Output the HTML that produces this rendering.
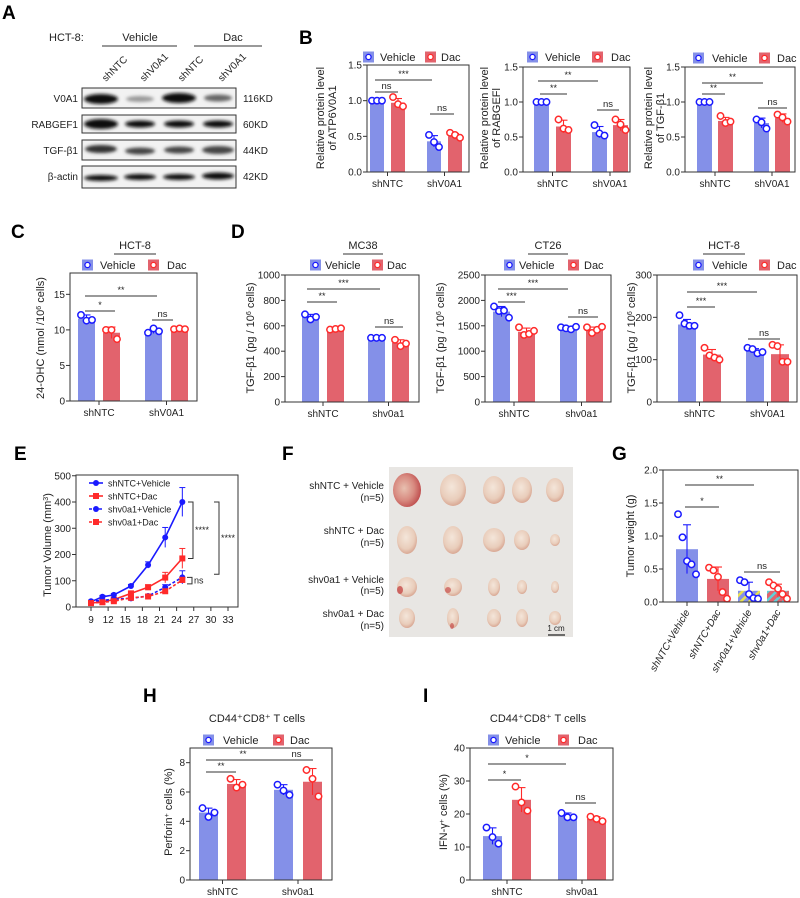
<!DOCTYPE html>
<html><head><meta charset="utf-8">
<style>
html,body{margin:0;padding:0;background:#fff;}
svg{display:block;font-family:"Liberation Sans",Arial,sans-serif;}
</style></head>
<body>
<svg id="fig" width="800" height="898" viewBox="0 0 800 898" xmlns="http://www.w3.org/2000/svg">
<defs>
<filter id="blur1"><feGaussianBlur stdDeviation="1.6"/></filter>
<pattern id="hatchB" width="6" height="6" patternUnits="userSpaceOnUse" patternTransform="rotate(45)"><rect width="6" height="6" fill="#8490e8"/><rect width="2.5" height="6" fill="#e8e050"/></pattern>
<pattern id="hatchR" width="6" height="6" patternUnits="userSpaceOnUse" patternTransform="rotate(45)"><rect width="6" height="6" fill="#e2636d"/><rect width="2.5" height="6" fill="#60d0d8"/></pattern>
<radialGradient id="tum" cx="45%" cy="40%" r="60%"><stop offset="0" stop-color="#f4e6da"/><stop offset="0.7" stop-color="#e9cdbb"/><stop offset="1" stop-color="#d9a894"/></radialGradient>
<radialGradient id="tumR" cx="40%" cy="45%" r="60%"><stop offset="0" stop-color="#e8c0b0"/><stop offset="0.6" stop-color="#d88a80"/><stop offset="1" stop-color="#c05050"/></radialGradient>
</defs>

<g font-weight="bold" font-size="19" fill="#000">
<text x="2" y="19">A</text>
<text x="299" y="44">B</text>
<text x="11" y="238">C</text>
<text x="231" y="238">D</text>
<text x="14" y="460">E</text>
<text x="282" y="460">F</text>
<text x="612" y="460">G</text>
<text x="143" y="702">H</text>
<text x="423" y="702">I</text>
</g>

<g id="panelA" font-size="11" fill="#222">
<text x="49" y="41">HCT-8:</text>
<text x="140" y="41" text-anchor="middle">Vehicle</text>
<line x1="102" y1="46" x2="177" y2="46" stroke="#333" stroke-width="1"/>
<text x="233" y="41" text-anchor="middle">Dac</text>
<line x1="194" y1="46" x2="262" y2="46" stroke="#333" stroke-width="1"/>
<text transform="translate(106,82) rotate(-45)" font-size="10">shNTC</text>
<text transform="translate(144,82) rotate(-45)" font-size="10">shV0A1</text>
<text transform="translate(182,82) rotate(-45)" font-size="10">shNTC</text>
<text transform="translate(222,82) rotate(-45)" font-size="10">shV0A1</text>
<g font-size="10" text-anchor="end">
<text x="78" y="102">V0A1</text>
<text x="78" y="128">RABGEF1</text>
<text x="78" y="154">TGF-β1</text>
<text x="78" y="180">β-actin</text>
</g>
<g font-size="10">
<text x="243" y="102">116KD</text>
<text x="243" y="128">60KD</text>
<text x="243" y="154">44KD</text>
<text x="243" y="180">42KD</text>
</g>
<g stroke="#333" stroke-width="1" fill="#f2f2f2">
<rect x="82" y="88" width="154" height="20"/>
<rect x="82" y="115" width="154" height="18"/>
<rect x="82" y="140" width="154" height="20"/>
<rect x="82" y="166" width="154" height="22"/>
</g>
<g filter="url(#blur1)" fill="#111">
<ellipse cx="101" cy="99" rx="17" ry="5"/>
<ellipse cx="140" cy="99" rx="14" ry="3" fill="#999"/>
<ellipse cx="179" cy="98" rx="17" ry="5"/>
<ellipse cx="218" cy="98" rx="14" ry="3.5" fill="#666"/>
<ellipse cx="101" cy="124" rx="17" ry="5"/>
<ellipse cx="140" cy="124" rx="15" ry="3.5"/>
<ellipse cx="179" cy="124" rx="15" ry="3.5"/>
<ellipse cx="218" cy="124" rx="15" ry="3.5"/>
<ellipse cx="101" cy="149" rx="16" ry="4" fill="#333"/>
<ellipse cx="140" cy="151" rx="15" ry="3.5" fill="#444"/>
<ellipse cx="179" cy="150" rx="15" ry="3.5" fill="#444"/>
<ellipse cx="218" cy="150" rx="16" ry="4" fill="#444"/>
<ellipse cx="101" cy="178" rx="17" ry="3"/>
<ellipse cx="140" cy="177" rx="16" ry="3"/>
<ellipse cx="179" cy="177" rx="16" ry="3"/>
<ellipse cx="218" cy="176" rx="16" ry="3.5"/>
</g>
</g>

<g id="panelF">
<rect x="389" y="467" width="184" height="170" fill="#e8e6e3"/>
<g font-size="10" fill="#222" text-anchor="end">
<text x="384" y="489">shNTC + Vehicle</text>
<text x="384" y="501">(n=5)</text>
<text x="384" y="534">shNTC + Dac</text>
<text x="384" y="546">(n=5)</text>
<text x="384" y="583">shv0a1 + Vehicle</text>
<text x="384" y="594">(n=5)</text>
<text x="384" y="617">shv0a1 + Dac</text>
<text x="384" y="629">(n=5)</text>
</g>
<g id="tumors"></g>
<text x="556" y="631" font-size="8" text-anchor="middle" fill="#222">1 cm</text>
<line x1="548" y1="635" x2="565" y2="635" stroke="#222" stroke-width="1.2"/>
</g>

<g id="charts"></g>
</svg>

<script>
const groupsB = ["shNTC", "shV0A1"];
const groupsShv = ["shNTC", "shv0a1"];
const seriesNames = ["Vehicle", "Dac"];

const b1Means = [1.0, 0.97, 0.43, 0.5];
const b1Errs = [0.0, 0.06, 0.08, 0.04];
const b1Points = [[1.0, 1.0, 1.0], [1.05, 0.95, 0.92], [0.52, 0.42, 0.35], [0.55, 0.52, 0.48]];
const b2Means = [1.0, 0.65, 0.57, 0.67];
const b2Errs = [0.0, 0.09, 0.08, 0.08];
const b2Points = [[1.0, 1.0, 1.0], [0.75, 0.62, 0.6], [0.67, 0.55, 0.52], [0.75, 0.68, 0.6]];
const b3Means = [1.0, 0.73, 0.7, 0.77];
const b3Errs = [0.0, 0.05, 0.07, 0.06];
const b3Points = [[1.0, 1.0, 1.0], [0.8, 0.7, 0.72], [0.75, 0.71, 0.62], [0.82, 0.78, 0.72]];
const bTicks = [0, 0.5, 1.0, 1.5];
const bTickLabels = ["0.0", "0.5", "1.0", "1.5"];

const cMeans = [11.6, 9.6, 9.8, 10.1];
const cErrs = [0.5, 0.8, 0.3, 0.1];
const cPoints = [[12.1, 11.3, 11.4], [10.0, 10.0, 8.7], [9.6, 10.2, 9.8], [10.1, 10.2, 10.1]];
const cTicks = [0, 5, 10, 15];

const d1Means = [670, 575, 505, 465];
const d1Errs = [20, 5, 3, 25];
const d1Points = [[690, 650, 670], [570, 575, 580], [505, 505, 505], [490, 440, 460]];
const d1Ticks = [0, 200, 400, 600, 800, 1000];
const d2Means = [1780, 1380, 1450, 1420];
const d2Errs = [100, 75, 25, 55];
const d2Points = [[1880, 1790, 1800, 1660], [1470, 1320, 1340, 1400], [1470, 1450, 1430, 1480], [1470, 1360, 1420, 1480]];
const d2Ticks = [0, 500, 1000, 1500, 2000, 2500];
const d3Means = [183, 112, 120, 113];
const d3Errs = [12, 12, 6, 22];
const d3Points = [[205, 185, 180, 180], [128, 110, 105, 100], [128, 125, 115, 118], [135, 132, 95, 95]];
const d3Ticks = [0, 100, 200, 300];

const eDays = [9, 11, 13, 16, 19, 22, 25];
const eShNTCVeh = [20, 39, 46, 80, 160, 265, 400];
const eShNTCVehErr = [4, 5, 5, 6, 12, 38, 55];
const eShNTCDac = [15, 20, 28, 52, 75, 112, 185];
const eShNTCDacErr = [3, 4, 5, 8, 10, 20, 38];
const eShvVeh = [22, 25, 30, 33, 42, 75, 113];
const eShvVehErr = [3, 4, 4, 5, 6, 10, 25];
const eShvDac = [15, 18, 22, 35, 40, 60, 103];
const eShvDacErr = [3, 3, 4, 4, 5, 8, 10];
const eXTicks = [9, 12, 15, 18, 21, 24, 27, 30, 33];
const eYTicks = [0, 100, 200, 300, 400, 500];
const eSeriesNames = ["shNTC+Vehicle", "shNTC+Dac", "shv0a1+Vehicle", "shv0a1+Dac"];

const gCategories = ["shNTC+Vehicle", "shNTC+Dac", "shv0a1+Vehicle", "shv0a1+Dac"];
const gMeans = [0.8, 0.35, 0.17, 0.17];
const gErrs = [0.37, 0.18, 0.13, 0.1];
const gPoints = [[1.33, 0.98, 0.62, 0.57, 0.42], [0.52, 0.48, 0.38, 0.15, 0.05], [0.33, 0.3, 0.12, 0.06, 0.05], [0.3, 0.25, 0.2, 0.12, 0.05]];
const gTicks = [0, 0.5, 1.0, 1.5, 2.0];
const gTickLabels = ["0.0", "0.5", "1.0", "1.5", "2.0"];

const hMeans = [4.6, 6.55, 6.15, 6.7];
const hErrs = [0.3, 0.3, 0.35, 0.9];
const hPoints = [[4.9, 4.3, 4.6], [6.9, 6.3, 6.5], [6.5, 6.1, 5.8], [7.5, 6.9, 5.7]];
const hTicks = [0, 2, 4, 6, 8];
const iMeans = [13.3, 24.3, 19.5, 18.5];
const iErrs = [2.5, 3.7, 0.8, 0.7];
const iPoints = [[15.9, 13.0, 11.0], [28.3, 23.5, 21.0], [20.3, 19.0, 19.0], [19.2, 18.5, 17.8]];
const iTicks = [0, 10, 20, 30, 40];

const NS = "http://www.w3.org/2000/svg";
const root = document.getElementById("charts");
const BLUE_BAR = "#8490e8", RED_BAR = "#e2636d", BLUE = "#1a1aff", RED = "#ff2a2a";
function mk(parent, tag, attrs, name) {
  const el = document.createElementNS(NS, tag);
  for (const k in attrs) el.setAttribute(k, attrs[k]);
  
  
  parent.appendChild(el);
  return el;
}
function txt(parent, x, y, s, size, name, extra) {
  const t = mk(parent, "text", Object.assign({x: x, y: y, "font-size": size, fill: "#222"}, extra || {}), name);
  t.textContent = s;
  return t;
}
function legend(g, sqB, txB, sqR, txR, y) {
  mk(g, "rect", {x: sqB, y: y - 5.5, width: 11, height: 11, fill: BLUE_BAR}, "legend-vehicle-swatch");
  mk(g, "circle", {cx: sqB + 5.5, cy: y, r: 2.6, fill: "#fff", stroke: BLUE, "stroke-width": 1.3}, "legend-vehicle-marker");
  txt(g, txB, y + 4, seriesNames[0], 11, "legend-vehicle-label");
  mk(g, "rect", {x: sqR, y: y - 5.5, width: 11, height: 11, fill: RED_BAR}, "legend-dac-swatch");
  mk(g, "circle", {cx: sqR + 5.5, cy: y, r: 2.6, fill: "#fff", stroke: RED, "stroke-width": 1.3}, "legend-dac-marker");
  txt(g, txR, y + 4, seriesNames[1], 11, "legend-dac-label");
}
function sig(g, x1, x2, y, label) {
  mk(g, "line", {x1: x1, x2: x2, y1: y, y2: y, stroke: "#333", "stroke-width": 1}, "significance-line");
  txt(g, (x1 + x2) / 2, y - 3, label, label === "ns" ? 9.5 : 9, "significance-label", {"text-anchor": "middle"});
}
function barPanel(cfg, means, errs, pts, ticks, tickLabels, cats) {
  const g = mk(root, "g", {}, cfg.name);
  const yS = v => cfg.y0 - v / cfg.ymax * (cfg.y0 - cfg.top);
  means.forEach((m, i) => {
    const fill = cfg.fills ? cfg.fills[i] : (i % 2 === 0 ? BLUE_BAR : RED_BAR);
    mk(g, "rect", {x: cfg.bx[i], y: yS(m), width: cfg.bw, height: cfg.y0 - yS(m), fill: fill}, "bar-" + (i % 2 === 0 ? "vehicle" : "dac") + "-" + i);
  });
  means.forEach((m, i) => {
    const c = i % 2 === 0 ? BLUE : RED;
    const cx = cfg.bx[i] + cfg.bw / 2;
    if (errs[i] > 0) {
      mk(g, "line", {x1: cx, x2: cx, y1: yS(m - errs[i]), y2: yS(m + errs[i]), stroke: c, "stroke-width": 1.1}, "error-bar");
      mk(g, "line", {x1: cx - 4, x2: cx + 4, y1: yS(m + errs[i]), y2: yS(m + errs[i]), stroke: c, "stroke-width": 1.1}, "error-cap");
    }
  });
  pts.forEach((arr, i) => {
    const c = i % 2 === 0 ? BLUE : RED;
    const cx = cfg.bx[i] + cfg.bw / 2;
    const sp = cfg.spread || 5.5;
    arr.forEach((v, j) => {
      const px = cx + (j - (arr.length - 1) / 2) * sp;
      mk(g, "circle", {cx: px, cy: yS(v), r: 3.2, fill: "#fff", stroke: c, "stroke-width": 1.5}, "data-point");
    });
  });
  mk(g, "rect", {x: cfg.x0, y: cfg.top, width: cfg.x1 - cfg.x0, height: cfg.y0 - cfg.top, fill: "none", stroke: "#333", "stroke-width": 1}, "plot-frame");
  ticks.forEach((t, k) => {
    mk(g, "line", {x1: cfg.x0 - 4, x2: cfg.x0, y1: yS(t), y2: yS(t), stroke: "#333"}, "y-tick");
    txt(g, cfg.x0 - 5, yS(t) + 3.5, tickLabels ? tickLabels[k] : String(t), 10, "y-tick-label", {"text-anchor": "end"});
  });
  if (cats && !cfg.rotCats) {
    cats.forEach((c, k) => {
      const cx = (cfg.bx[2 * k] + cfg.bx[2 * k + 1] + cfg.bw) / 2;
      mk(g, "line", {x1: cx, x2: cx, y1: cfg.y0, y2: cfg.y0 + 4, stroke: "#333"}, "x-tick");
      txt(g, cx, cfg.y0 + 15, c, 10, "x-tick-label", {"text-anchor": "middle"});
    });
  }
  const yt = mk(g, "text", {transform: "translate(" + cfg.ytx + "," + cfg.yty + ") rotate(-90)", "font-size": 11, fill: "#222", "text-anchor": "middle"}, "y-axis-title");
  cfg.ytitle.forEach((line, k) => {
    const ts = mk(yt, "tspan", {x: 0, dy: k === 0 ? 0 : 12}, "y-axis-title-line");
    ts.innerHTML = line;
  });
  (cfg.sigs || []).forEach(s => sig(g, s[0], s[1], s[2], s[3]));
  if (cfg.legend) legend(g, cfg.legend[0], cfg.legend[1], cfg.legend[2], cfg.legend[3], cfg.legend[4]);
  if (cfg.title) {
    txt(g, cfg.title[0], cfg.title[1], cfg.title[2], 11, "chart-title", {"text-anchor": "middle"});
    if (cfg.title[3]) mk(g, "line", {x1: cfg.title[0] - cfg.title[3], x2: cfg.title[0] + cfg.title[3], y1: cfg.title[1] + 5, y2: cfg.title[1] + 5, stroke: "#333"}, "chart-title-underline");
  }
  return g;
}

barPanel({name: "chart-b-atp6v0a1", x0: 367, x1: 469, top: 65, y0: 172, ymax: 1.5, bx: [370, 391, 427, 448], bw: 14, spread: 5,
  ytx: 324, yty: 118, ytitle: ["Relative protein level", "of ATP6V0A1"], legend: [363, 380, 425, 441, 57],
  sigs: [[375, 432, 80, "***"], [375, 398, 92, "ns"], [430, 454, 114, "ns"]]}, b1Means, b1Errs, b1Points, bTicks, bTickLabels, groupsB);
barPanel({name: "chart-b-rabgef1", x0: 523, x1: 630, top: 67, y0: 172, ymax: 1.5, bx: [534, 556, 592, 613], bw: 15, spread: 5,
  ytx: 488, yty: 118, ytitle: ["Relative protein level", "of RABGEFl"], legend: [527, 545, 592, 611, 57],
  sigs: [[538, 598, 81, "**"], [540, 567, 94, "**"], [597, 619, 110, "ns"]]}, b2Means, b2Errs, b2Points, bTicks, bTickLabels, groupsB);
barPanel({name: "chart-b-tgfb1", x0: 685, x1: 795, top: 67, y0: 172, ymax: 1.5, bx: [697, 718, 754, 775], bw: 15, spread: 5,
  ytx: 652, yty: 118, ytitle: ["Relative protein level", "of TGF-β1"], legend: [693, 712, 759, 777, 58],
  sigs: [[702, 763, 83, "**"], [702, 725, 94, "**"], [758, 787, 108, "ns"]]}, b3Means, b3Errs, b3Points, bTicks, bTickLabels, groupsB);

barPanel({name: "chart-c-24ohc", x0: 70, x1: 197, top: 273, y0: 401, ymax: 18, bx: [78, 103, 145, 171], bw: 17, spread: 5.5,
  ytx: 44, yty: 338, ytitle: ["24-OHC  (nmol /10<tspan baseline-shift='super' font-size='7'>6</tspan> cells)"], legend: [82, 100, 148, 167, 265],
  title: [135, 249, "HCT-8", 21],
  sigs: [[85, 157, 296, "**"], [85, 115, 311, "*"], [152, 173, 320, "ns"]]}, cMeans, cErrs, cPoints, cTicks, null, groupsB);

const dYt = ["TGF-β1  (pg / 10<tspan baseline-shift='super' font-size='7'>6</tspan> cells)"];
barPanel({name: "chart-d-mc38", x0: 285, x1: 419, top: 275, y0: 402, ymax: 1000, bx: [302, 327, 368, 392], bw: 17, spread: 5.5,
  ytx: 254, yty: 338, ytitle: dYt, legend: [310, 325, 372, 387, 265], title: [363, 249, "MC38", 20],
  sigs: [[307, 380, 289, "***"], [307, 337, 302, "**"], [375, 403, 327, "ns"]]}, d1Means, d1Errs, d1Points, d1Ticks, null, groupsShv);
barPanel({name: "chart-d-ct26", x0: 485, x1: 611, top: 275, y0: 402, ymax: 2500, bx: [493, 518, 560, 586], bw: 17, spread: 5,
  ytx: 444, yty: 338, ytitle: dYt, legend: [504, 519, 568, 584, 265], title: [548, 249, "CT26", 20],
  sigs: [[498, 568, 289, "***"], [498, 525, 302, "***"], [568, 598, 317, "ns"]]}, d2Means, d2Errs, d2Points, d2Ticks, null, groupsShv);
barPanel({name: "chart-d-hct8", x0: 657, x1: 797, top: 275, y0: 402, ymax: 300, bx: [678, 703, 746, 771], bw: 18, spread: 5,
  ytx: 635, yty: 338, ytitle: dYt, legend: [693, 712, 759, 777, 265], title: [724, 249, "HCT-8", 21],
  sigs: [[687, 757, 292, "***"], [687, 715, 307, "***"], [748, 780, 339, "ns"]]}, d3Means, d3Errs, d3Points, d3Ticks, null, ["shNTC", "shV0A1"]);

const gG = barPanel({name: "chart-g-tumor-weight", x0: 663, x1: 798, top: 470, y0: 602, ymax: 2.0, bx: [676, 707, 738, 767], bw: 22, spread: 4.5,
  fills: [BLUE_BAR, RED_BAR, "url(#hatchB)", "url(#hatchR)"], rotCats: true,
  ytx: 634, yty: 536, ytitle: ["Tumor weight (g)"],
  sigs: [[685, 754, 485, "**"], [685, 719, 507, "*"], [744, 780, 572, "ns"]]}, gMeans, gErrs, gPoints, gTicks, gTickLabels, null);
gCategories.forEach((c, k) => {
  const cx = [676, 707, 738, 767][k] + 11;
  mk(gG, "line", {x1: cx, x2: cx, y1: 602, y2: 606, stroke: "#333"}, "x-tick");
  txt(gG, 0, 0, c, 10, "x-tick-label", {"text-anchor": "end", "font-style": "italic", transform: "translate(" + (cx + 3) + ",612) rotate(-60)"});
});

barPanel({name: "chart-h-perforin", x0: 190, x1: 332, top: 748, y0: 880, ymax: 9, bx: [199, 227, 274, 303], bw: 19, spread: 6,
  ytx: 172, yty: 812, ytitle: ["Perforin<tspan baseline-shift='super' font-size='7'>+</tspan> cells (%)"], legend: [203, 223, 273, 290, 740],
  title: [257, 722, "CD44⁺CD8⁺ T cells", 0],
  sigs: [[206, 280, 760, "**"], [280, 313, 760, "ns"], [206, 236, 772, "**"]]}, hMeans, hErrs, hPoints, hTicks, null, groupsShv);
barPanel({name: "chart-i-ifng", x0: 470, x1: 613, top: 748, y0: 880, ymax: 40, bx: [483, 512, 558, 587], bw: 19, spread: 6,
  ytx: 447, yty: 812, ytitle: ["IFN-γ<tspan baseline-shift='super' font-size='7'>+</tspan> cells (%)"], legend: [488, 505, 558, 578, 740],
  title: [538, 722, "CD44⁺CD8⁺ T cells", 0],
  sigs: [[488, 566, 764, "*"], [488, 521, 780, "*"], [565, 596, 803, "ns"]]}, iMeans, iErrs, iPoints, iTicks, null, groupsShv);

(function () {
  const g = mk(root, "g", {}, "chart-e-tumor-volume");
  const X0 = 76, X1 = 238, TOP = 475, Y0 = 607;
  const xS = d => 91 + (d - 9) * (137 / 24);
  const yS = v => Y0 - v * (105 / 400);
  mk(g, "rect", {x: X0, y: TOP, width: X1 - X0, height: Y0 - TOP, fill: "none", stroke: "#333"}, "plot-frame");
  eYTicks.forEach(t => {
    mk(g, "line", {x1: X0 - 4, x2: X0, y1: yS(t), y2: yS(t), stroke: "#333"}, "y-tick");
    txt(g, X0 - 5, yS(t) + 3.5, String(t), 10, "y-tick-label", {"text-anchor": "end"});
  });
  eXTicks.forEach(t => {
    mk(g, "line", {x1: xS(t), x2: xS(t), y1: Y0, y2: Y0 + 4, stroke: "#333"}, "x-tick");
    txt(g, xS(t), Y0 + 16, String(t), 10, "x-tick-label", {"text-anchor": "middle"});
  });
  txt(g, 0, 0, "", 11, "y-axis-title", {transform: "translate(51,545) rotate(-90)", "text-anchor": "middle"}).innerHTML = "Tumor Volume (mm<tspan baseline-shift='super' font-size='7'>3</tspan>)";
  const series = [[eShNTCVeh, eShNTCVehErr, BLUE, "", "circle"], [eShNTCDac, eShNTCDacErr, RED, "", "square"],
                  [eShvVeh, eShvVehErr, BLUE, "3,2", "circle"], [eShvDac, eShvDacErr, RED, "3,2", "square"]];
  series.forEach((s, si) => {
    const vals = s[0], err = s[1], col = s[2];
    const sg = mk(g, "g", {}, "series-" + eSeriesNames[si]);
    vals.forEach((v, k) => {
      mk(sg, "line", {x1: xS(eDays[k]), x2: xS(eDays[k]), y1: yS(v - err[k]), y2: yS(v + err[k]), stroke: col, "stroke-width": 1}, "error-bar");
      mk(sg, "line", {x1: xS(eDays[k]) - 3, x2: xS(eDays[k]) + 3, y1: yS(v + err[k]), y2: yS(v + err[k]), stroke: col, "stroke-width": 1}, "error-cap");
    });
    const d = vals.map((v, k) => (k ? "L" : "M") + xS(eDays[k]).toFixed(1) + "," + yS(v).toFixed(1)).join(" ");
    mk(sg, "path", {d: d, fill: "none", stroke: col, "stroke-width": 1.6, "stroke-dasharray": s[3]}, "series-line");
    vals.forEach((v, k) => {
      if (s[4] === "circle") mk(sg, "circle", {cx: xS(eDays[k]), cy: yS(v), r: 3, fill: col}, "data-point");
      else mk(sg, "rect", {x: xS(eDays[k]) - 3, y: yS(v) - 3, width: 6, height: 6, fill: col}, "data-point");
    });
    const ly = 483 + si * 13;
    mk(g, "line", {x1: 89, x2: 103, y1: ly, y2: ly, stroke: col, "stroke-width": 1.6, "stroke-dasharray": s[3]}, "legend-line");
    if (s[4] === "circle") mk(g, "circle", {cx: 96, cy: ly, r: 3, fill: col}, "legend-marker");
    else mk(g, "rect", {x: 93, y: ly - 3, width: 6, height: 6, fill: col}, "legend-marker");
    txt(g, 108, ly + 3.5, eSeriesNames[si], 9, "legend-label");
  });
  const br = (x, y1, y2, label, lx) => {
    mk(g, "path", {d: "M" + (x - 5) + "," + y1 + " H" + x + " V" + y2 + " H" + (x - 5), fill: "none", stroke: "#333"}, "significance-bracket");
    txt(g, lx, (y1 + y2) / 2 + 3, label, 9, "significance-label");
  };
  br(193, yS(400), yS(185), "****", 195);
  br(219, yS(400), yS(125), "****", 221);
  br(192, yS(113), yS(88), "ns", 194);
})();

(function () {
  const tg = document.getElementById("tumors");
  const rowsY = [490, 540, 587, 618];
  const colsX = [407, 453, 494, 522, 555];
  const sizes = [[[14, 17], [13, 16], [11, 14], [10, 13], [9, 12]],
                 [[10, 14], [10, 14], [11, 12], [8, 10], [5, 6]],
                 [[10, 10], [9, 9], [6, 9], [5, 7], [4, 6]],
                 [[8, 10], [6, 10], [7, 9], [6, 9], [6, 7]]];
  sizes.forEach((row, r) => row.forEach((s, c) => {
    const fill = (r === 0 && c === 0) ? "url(#tumR)" : "url(#tum)";
    mk(tg, "ellipse", {cx: colsX[c], cy: rowsY[r], rx: s[0], ry: s[1], fill: fill}, "tumor-r" + (r + 1) + "-c" + (c + 1));
  }));
  mk(tg, "ellipse", {cx: 400, cy: 590, rx: 3, ry: 4, fill: "#c23a3a", opacity: 0.7}, "blood-spot");
  mk(tg, "ellipse", {cx: 448, cy: 590, rx: 3, ry: 3, fill: "#c23a3a", opacity: 0.6}, "blood-spot");
  mk(tg, "ellipse", {cx: 452, cy: 626, rx: 2, ry: 3, fill: "#c23a3a", opacity: 0.6}, "blood-spot");
})();
</script>
</body></html>
